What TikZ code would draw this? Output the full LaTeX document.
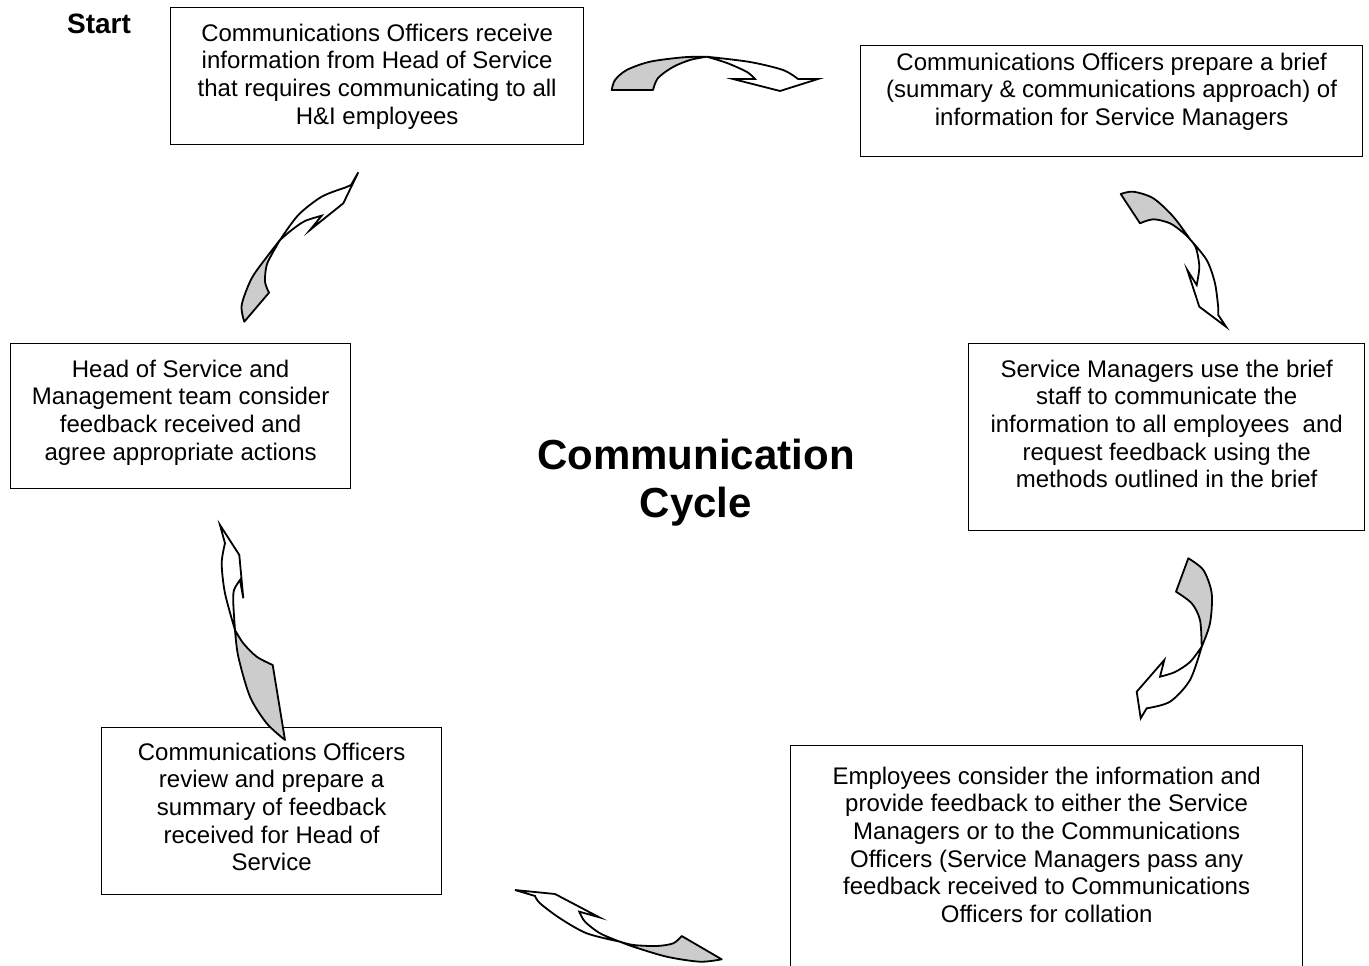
\documentclass[tikz,border=0pt]{standalone}
\usepackage{fontspec}
\setmainfont{Liberation Sans}
\definecolor{arrgray}{HTML}{CCCCCC}
\newcommand{\bxt}[4]{\parbox[c][#2pt][t]{#1pt}{\centering\vspace*{#3pt}\strut #4}}
\tikzset{
  box/.style={draw=black, line width=1.3pt, inner sep=0pt, anchor=north west,
    font=\fontsize{24}{27.7}\selectfont},
  gfill/.style={draw=black, fill=arrgray, line width=1.8pt, line join=round},
  wfill/.style={draw=black, fill=white, line width=1.8pt, line join=miter},
}
\begin{document}
\begin{tikzpicture}[x=1pt, y=-1pt]
\useasboundingbox (0,0) rectangle (1369,966);
\clip (0,0) rectangle (1369,966);
\fill[white] (0,0) rectangle (1369,966);

\node[font=\bfseries\fontsize{28}{32}\selectfont] (start) at (99,24) {Start};
\node[font=\bfseries\fontsize{42}{48}\selectfont, align=center] (title) at (696,483) {Communication\\Cycle};

\node[box] (b1) at (170,7) {\bxt{413}{137}{14}{Communications Officers receive\\information from Head of Service\\that requires communicating to all\\H\&I employees}};
\node[box] (b2) at (860,45) {\bxt{502}{111}{5}{Communications Officers prepare a brief\\(summary \& communications approach) of\\information for Service Managers}};
\node[box] (b3) at (968,343) {\bxt{396}{187}{14}{Service Managers use the brief\\staff to communicate the\\information to all employees\ \ and\\request feedback using the\\methods outlined in the brief}};
\node[box] (b4) at (790,745) {\bxt{512}{240}{19}{Employees consider the information and\\provide feedback to either the Service\\Managers or to the Communications\\Officers (Service Managers pass any\\feedback received to Communications\\Officers for collation}};
\node[box] (b5) at (101,727) {\bxt{340}{167}{13}{Communications Officers\\review and prepare a\\summary of feedback\\received for Head of\\Service}};
\node[box] (b6) at (10,343) {\bxt{340}{145}{14}{Head of Service and\\Management team consider\\feedback received and\\agree appropriate actions}};

% arrow 1 (top)
\filldraw[gfill] plot[smooth] coordinates {(611.7,90) (615,80) (626.7,70) (650,61.7) (683.3,57.3) (706.7,56.7)}
  -- plot[smooth] coordinates {(706.7,56.7) (690,60) (673,67) (658,78) (653,90)} -- cycle;
\filldraw[wfill] plot[smooth] coordinates {(706.7,56.7) (750,62) (783,70) (798,79)}
  -- (818,79) -- (780,91) -- (733,79) -- (755,79)
  -- plot[smooth] coordinates {(755,79) (747,72) (727,63) (706.7,56.7)} -- cycle;

% arrow 2 (top right)
\filldraw[gfill] plot[smooth] coordinates {(1120.7,194) (1133.3,191.7) (1153.3,198.3) (1173.3,216.7) (1190,239.3)}
  -- plot[smooth] coordinates {(1190,239.3) (1183.3,232.7) (1170,223.3) (1153.3,219.3) (1140,223.3)} -- cycle;
\filldraw[wfill] plot[smooth] coordinates {(1190,239.3) (1196,248) (1199.3,266.7) (1196.7,285)}
  -- (1187.3,270) -- (1199.3,306.7) -- (1226,326.7) -- (1218.3,315) -- (1218.3,308.3)
  -- plot[smooth] coordinates {(1218.3,308.3) (1215,283.3) (1206.7,260) (1190,239.3)} -- cycle;

% arrow 3 (right)
\filldraw[gfill] plot[smooth] coordinates {(1188.3,558.3) (1203.3,570) (1211.7,593.3) (1210,623.3) (1201.7,646.7)}
  -- plot[smooth] coordinates {(1201.7,646.7) (1200,620) (1191.7,603.3) (1176,591.7)} -- cycle;
\filldraw[wfill] plot[smooth] coordinates {(1201.7,646.7) (1190,662) (1175,672) (1160,676.7)}
  -- (1164.3,660) -- (1136.7,691.7) -- (1140.7,718.3) -- (1146.7,708.3)
  -- plot[smooth] coordinates {(1146.7,708.3) (1170,701.7) (1190,680) (1201.7,646.7)} -- cycle;

% arrow 4 (bottom)
\filldraw[gfill] plot[smooth] coordinates {(721.7,959.3) (700,961.7) (666.7,956.7) (633.3,946.7) (620,941.7)}
  -- plot[smooth] coordinates {(620,941.7) (633.3,945) (656.7,946) (673.3,943.3) (681.7,936)} -- cycle;
\filldraw[wfill] plot[smooth] coordinates {(620,941.7) (586.7,933.3) (560,918.3) (540,903.3) (535,896)}
  -- (515,890) -- (555,894) -- (599.3,917.3) -- (579.3,911.7)
  -- plot[smooth] coordinates {(579.3,911.7) (585,921.7) (600,933.3) (620,941.7)} -- cycle;

% arrow 5 (left bottom)
\filldraw[gfill] plot[smooth] coordinates {(285,740) (266.7,723.3) (250,696.7) (238.3,656.7) (235,630)}
  -- plot[smooth] coordinates {(235,630) (243.3,643.3) (256.7,656.7) (272.7,665)} -- cycle;
\filldraw[wfill] plot[smooth] coordinates {(235,630) (225,593.3) (221.7,563.3) (225,543.3)}
  -- (220,525) -- (239.3,555) -- (243.3,598.3) -- (240,580)
  -- plot[smooth] coordinates {(240,580) (234,590) (233.3,603.3) (235,630)} -- cycle;

% arrow 6 (left top)
\filldraw[gfill] plot[smooth] coordinates {(244.3,321.7) (241.7,305) (251.7,278.3) (268.3,255) (280,240)}
  -- plot[smooth] coordinates {(280,240) (273.3,251.7) (266.7,265) (265,281.7) (269,292.7)} -- cycle;
\filldraw[wfill] plot[smooth] coordinates {(280,240) (298.3,215) (321.7,196.7) (345,187.7)}
  -- (351,185) -- (358.3,172.3) -- (343.3,203.3) -- (310,230) -- (321.7,215.7)
  -- plot[smooth] coordinates {(321.7,215.7) (305,221) (291.7,230) (280,240)} -- cycle;
\end{tikzpicture}
\end{document}
